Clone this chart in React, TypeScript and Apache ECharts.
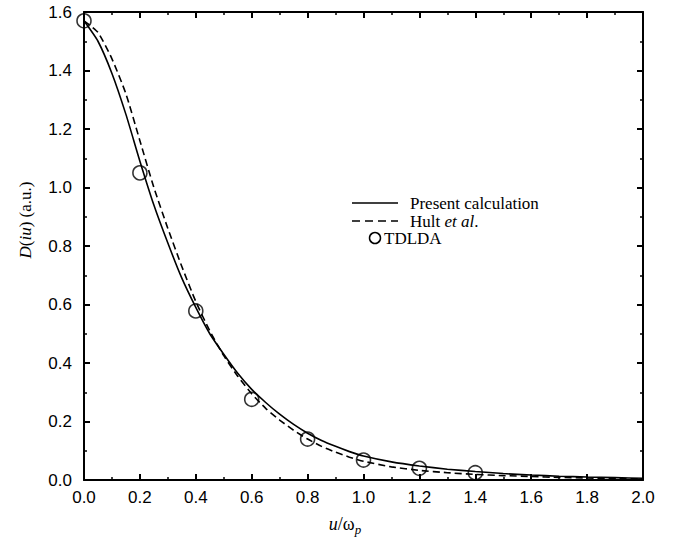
import React, { useEffect, useRef } from "react";
import * as echarts from "echarts";

const uGrid = [0, 0.05, 0.1, 0.15, 0.2, 0.25, 0.3, 0.35, 0.4, 0.45, 0.5, 0.55, 0.6, 0.65, 0.7, 0.75, 0.8, 0.85, 0.9, 0.95, 1.0, 1.1, 1.2, 1.3, 1.4, 1.5, 1.6, 1.7, 1.8, 1.9, 2.0];
const presentCalc = [1.57, 1.5, 1.39, 1.25, 1.09, 0.94, 0.81, 0.69, 0.59, 0.5, 0.43, 0.365, 0.31, 0.265, 0.225, 0.19, 0.16, 0.135, 0.115, 0.097, 0.082, 0.062, 0.048, 0.037, 0.029, 0.022, 0.017, 0.013, 0.01, 0.008, 0.006];
const hultEtAl = [1.57, 1.53, 1.44, 1.32, 1.16, 1.0, 0.86, 0.73, 0.61, 0.51, 0.425, 0.355, 0.295, 0.245, 0.205, 0.17, 0.14, 0.115, 0.095, 0.078, 0.064, 0.045, 0.033, 0.025, 0.019, 0.015, 0.012, 0.009, 0.007, 0.005, 0.004];
const tdldaU = [0, 0.2, 0.4, 0.6, 0.8, 1.0, 1.2, 1.4];
const tdldaD = [1.57, 1.05, 0.578, 0.276, 0.14, 0.068, 0.04, 0.025];

const seriesNames = ["Present calculation", "Hult et al.", "TDLDA"];

const tickFont = { fontFamily: "Liberation Sans", fontSize: 17, color: "#000" };
const serif = "Liberation Serif";
const legendSize = 17;

function axisCommon(showLabel: boolean) {
  return {
    axisLine: { show: true, onZero: false, lineStyle: { color: "#000", width: 2 } },
    axisTick: { show: true, inside: true, length: 6, lineStyle: { color: "#000", width: 2 } },
    minorTick: { show: true, splitNumber: 2, length: 3, lineStyle: { color: "#000", width: 1.5 } },
    splitLine: { show: false },
    minorSplitLine: { show: false },
    axisLabel: { show: showLabel, ...tickFont, formatter: (v: number) => v.toFixed(1) },
  };
}

export default function App() {
  const ref = useRef<HTMLDivElement>(null);
  useEffect(() => {
    if (!ref.current) return;
    const chart = echarts.init(ref.current, null, { renderer: "svg" });
    const pairs = (xs: number[], ys: number[]) => xs.map((x, i) => [x, ys[i]]);
    chart.setOption({
      animation: false,
      backgroundColor: "#fff",
      grid: { left: 84, right: 40, top: 12, bottom: 59 },
      xAxis: [
        { type: "value", min: 0, max: 2, interval: 0.2, position: "bottom", ...axisCommon(true), axisLabel: { ...axisCommon(true).axisLabel, margin: 9 } },
        { type: "value", min: 0, max: 2, interval: 0.2, position: "top", ...axisCommon(false) },
      ],
      yAxis: [
        { type: "value", min: 0, max: 1.6, interval: 0.2, position: "left", ...axisCommon(true), axisLabel: { ...axisCommon(true).axisLabel, margin: 12 } },
        { type: "value", min: 0, max: 1.6, interval: 0.2, position: "right", ...axisCommon(false) },
      ],
      series: [
        {
          name: seriesNames[0],
          type: "line",
          data: pairs(uGrid, presentCalc),
          showSymbol: false,
          smooth: 0.2,
          lineStyle: { color: "#000", width: 1.6 },
          z: 3,
        },
        {
          name: seriesNames[1],
          type: "line",
          data: pairs(uGrid, hultEtAl),
          showSymbol: false,
          smooth: 0.2,
          lineStyle: { color: "#000", width: 1.6, type: [7, 4] },
          z: 3,
        },
        {
          name: seriesNames[2],
          type: "scatter",
          data: pairs(tdldaU, tdldaD),
          symbol: "circle",
          symbolSize: 14,
          clip: false,
          itemStyle: { color: "rgba(0,0,0,0)", borderColor: "#000", borderWidth: 1.6 },
          z: 4,
        },
      ],
      graphic: [
        {
          type: "text",
          x: 25,
          y: 220,
          rotation: Math.PI / 2,
          style: {
            text: "{i|D}{r|(}{i|iu}{r|) (a.u.)}",
            align: "center",
            verticalAlign: "middle",
            rich: {
              i: { fontFamily: serif, fontStyle: "italic", fontSize: 17, fill: "#000" },
              r: { fontFamily: serif, fontSize: 17, fill: "#000" },
            },
          },
        },
        {
          type: "text",
          x: 345,
          y: 524,
          style: {
            text: "{i|u}{r|/ω}{s|p}",
            align: "center",
            verticalAlign: "middle",
            rich: {
              i: { fontFamily: serif, fontStyle: "italic", fontSize: 18, fill: "#000" },
              r: { fontFamily: serif, fontSize: 18, fill: "#000" },
              s: { fontFamily: serif, fontStyle: "italic", fontSize: 13, fill: "#000", padding: [10, 0, 0, 0] },
            },
          },
        },
        {
          type: "line",
          shape: { x1: 352, y1: 203, x2: 398, y2: 203 },
          style: { stroke: "#000", lineWidth: 1.6 },
        },
        {
          type: "text",
          x: 410,
          y: 203,
          style: { text: seriesNames[0], fontFamily: serif, fontSize: legendSize, fill: "#000", verticalAlign: "middle" },
        },
        {
          type: "line",
          shape: { x1: 352, y1: 221, x2: 398, y2: 221 },
          style: { stroke: "#000", lineWidth: 1.6, lineDash: [8, 5] },
        },
        {
          type: "text",
          x: 410,
          y: 221,
          style: {
            text: "{r|Hult }{i|et al}{r|.}",
            verticalAlign: "middle",
            rich: {
              i: { fontFamily: serif, fontStyle: "italic", fontSize: legendSize, fill: "#000" },
              r: { fontFamily: serif, fontSize: legendSize, fill: "#000" },
            },
          },
        },
        {
          type: "circle",
          shape: { cx: 375, cy: 238, r: 5.5 },
          style: { fill: "none", stroke: "#000", lineWidth: 1.5 },
        },
        {
          type: "text",
          x: 384,
          y: 238,
          style: { text: seriesNames[2], fontFamily: serif, fontSize: legendSize, fill: "#000", verticalAlign: "middle" },
        },
      ],
    });
    return () => chart.dispose();
  }, []);
  return <div ref={ref} style={{ position: "fixed", left: 0, top: 0, width: 683, height: 539 }} />;
}
